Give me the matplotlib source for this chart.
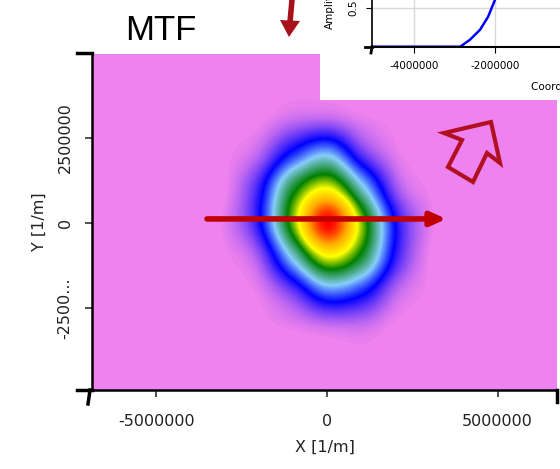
import numpy as np
import matplotlib.pyplot as plt
from matplotlib.colors import LinearSegmentedColormap
from matplotlib.patches import Rectangle, Polygon

# MTF samples on a 1e6 grid (rows y=+4..-4, cols x=-4..4)
grid_x = np.arange(-4, 5) * 1e6
grid_y = np.arange(4, -5, -1) * 1e6
mtf = np.array([
    [0, 0, 0, 0, 0, 0, 0, 0, 0],
    [0, 0, 0, 0.03, 0.04, 0.01, 0, 0, 0],
    [0, 0, 0.04, 0.19, 0.29, 0.10, 0.01, 0, 0],
    [0, 0, 0.13, 0.45, 0.62, 0.33, 0.06, 0, 0],
    [0, 0.01, 0.15, 0.55, 1.00, 0.55, 0.15, 0.01, 0],
    [0, 0, 0.06, 0.33, 0.62, 0.45, 0.13, 0, 0],
    [0, 0, 0.01, 0.10, 0.25, 0.19, 0.04, 0, 0],
    [0, 0, 0, 0.01, 0.03, 0.03, 0, 0, 0],
    [0, 0, 0, 0, 0, 0, 0, 0, 0],
])

# cross-section shown in the (cut off) inset
cut_x = [-5.04e6, -3.5e6, -2.86e6, -2.62e6, -2.37e6, -2.17e6, -2.0e6, -1.8e6, -1.6e6]
cut_amp = [0, 0, 0, 0.09, 0.22, 0.39, 0.61, 0.85, 1.0]

x_ticks = [-5e6, 0, 5e6]
x_ticklabels = ['-5000000', '0', '5000000']
y_ticks = [-2.5e6, 0, 2.5e6]
y_ticklabels = ['-2500...', '0', '2500000']

W, H = 560, 469
violet = '#EE82EE'
cmap = LinearSegmentedColormap.from_list('mtf', [
    (0.0, violet), (0.16, '#0000FF'), (0.3, '#87CEFA'), (0.48, '#008000'),
    (0.62, '#FFFF00'), (0.8, '#FFA500'), (1.0, '#FF0000')])

fig = plt.figure(figsize=(W / 100, H / 100), dpi=100)


def fx(px):
    return px / W


def fy(py):
    return 1 - py / H


ax = fig.add_axes([fx(92), fy(390), fx(557) - fx(92), fy(54) - fy(390)])
ax.set_facecolor(violet)
dx = grid_x[1] - grid_x[0]
ax.imshow(mtf, cmap=cmap, vmin=0, vmax=1, interpolation='catrom', interpolation_stage='data',
          extent=[grid_x[0] - dx / 2, grid_x[-1] + dx / 2, grid_y[-1] - dx / 2, grid_y[0] + dx / 2],
          aspect='auto')
ax.set_xlim(-6.89e6, 6.74e6)
ax.set_ylim(-4.91e6, 4.97e6)
ax.set_xticks(x_ticks, x_ticklabels)
ax.set_yticks(y_ticks, y_ticklabels)
for lab in ax.get_yticklabels():
    lab.set_rotation(90)
    lab.set_va('center')
ax.tick_params(length=5, width=1.2, color='#333333', labelsize=11.5, labelcolor='#222222')
ax.tick_params(axis='x', pad=12)
ax.tick_params(axis='y', pad=9)
for s in ['top', 'right']:
    ax.spines[s].set_visible(False)
for s in ['left', 'bottom']:
    ax.spines[s].set_linewidth(1.8)
ax.set_xlabel('X [1/m]', fontsize=11.5, color='#222222', labelpad=8)
ax.set_ylabel('Y [1/m]', fontsize=11.5, color='#222222', labelpad=8)

# red cut line arrow
ax.annotate('', xy=(3.5e6, 0.12e6), xytext=(-3.52e6, 0.12e6),
            arrowprops=dict(arrowstyle='-|>,head_length=0.9,head_width=0.4',
                            color='#C00000', lw=4, shrinkA=0, shrinkB=0))

# axis end caps
caps = [((77, 53), (92, 53)), ((77, 390), (92, 390)), ((90, 390), (88, 404)),
        ((557, 390), (557, 402))]
for (x0, y0), (x1, y1) in caps:
    fig.add_artist(plt.Line2D([fx(x0), fx(x1)], [fy(y0), fy(y1)], color='black', lw=2.5))

# white panel of the overlapping inset
fig.add_artist(Rectangle((fx(320), fy(100)), 1 - fx(320), 1 - fy(100),
                         transform=fig.transFigure, facecolor='white', edgecolor='none', zorder=1))

ins = fig.add_axes([fx(372), fy(46.7), fx(780) - fx(372), 81 / H], zorder=2)
ins.plot(cut_x, cut_amp, color='#0000FF', lw=1.8)
ins.set_xlim(-5.04e6, 5.04e6)
ins.set_ylim(0, 1.05)
ins.set_xticks([-4e6, -2e6, 0, 2e6, 4e6], ['-4000000', '-2000000', '0', '2000000', '4000000'])
ins.set_yticks([0, 0.5, 1.0], ['', '0.5', ''])
for lab in ins.get_yticklabels():
    lab.set_rotation(90)
    lab.set_va('center')
ins.grid(color='#D9D9D9', lw=1)
ins.tick_params(length=4, labelsize=7.5, pad=6)
for s in ['top', 'right']:
    ins.spines[s].set_visible(False)
ins.spines['left'].set_linewidth(1.2)
ins.spines['bottom'].set_linewidth(1.5)
ins.set_xlabel('Coordinate [1/m]', fontsize=7.5, labelpad=8)
ins.xaxis.set_label_coords(0.5, -0.42)
ins.set_ylabel('Amplitude', fontsize=7.5)
ins.yaxis.set_label_coords(-0.09, 0.55)
fig.add_artist(plt.Line2D([fx(365), fx(372)], [fy(46.7), fy(46.7)], color='black', lw=2, zorder=3))
fig.add_artist(plt.Line2D([fx(372), fx(371)], [fy(46.7), fy(53)], color='black', lw=2, zorder=3))

# title and pointer arrows
fig.text(fx(125), fy(40), 'MTF', fontsize=25, family='Liberation Sans', va='baseline')
fig.add_artist(plt.Line2D([fx(292), fx(290)], [fy(0), fy(22)], color='#A8101C', lw=4))
fig.add_artist(Polygon([(fx(280), fy(20)), (fx(300), fy(21)), (fx(289), fy(37))],
                       closed=True, facecolor='#A8101C', edgecolor='none'))
outline = [(491, 122), (500, 163), (487, 153), (473, 182), (448, 167), (462, 140), (444, 133)]
fig.add_artist(Polygon([(fx(a), fy(b)) for a, b in outline], closed=True, fill=False,
                       edgecolor='#B01020', lw=3, joinstyle='miter'))

fig.savefig('out.png', dpi=100)
